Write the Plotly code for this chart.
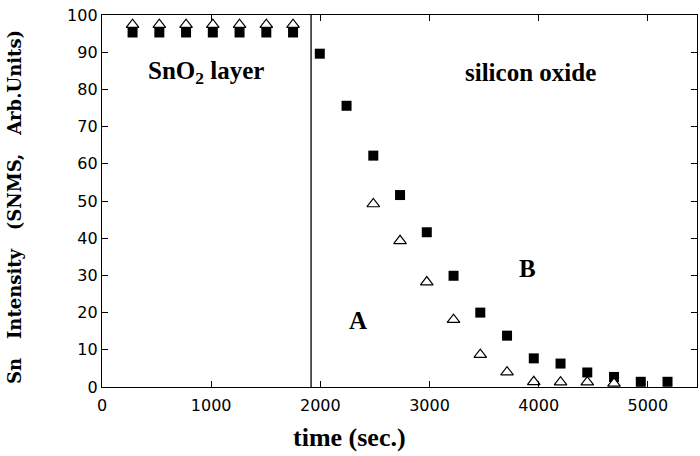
import plotly.graph_objects as go

time_s = [280, 525, 770, 1015, 1260, 1505, 1750, 1995, 2240, 2485, 2730, 2975,
          3220, 3465, 3710, 3955, 4200, 4445, 4690, 4935, 5180]
sample_B = [95.3, 95.3, 95.3, 95.3, 95.3, 95.3, 95.3, 89.6, 75.6, 62.2, 51.6, 41.6,
            29.9, 20.0, 13.8, 7.7, 6.3, 3.9, 2.7, 1.4, 1.4]
sample_A = [97.4, 97.4, 97.4, 97.4, 97.4, 97.4, 97.4, None, None, 49.2, 39.3, 28.2,
            18.1, 8.7, 4.0, 1.4, 1.3, 1.3, 1.0, None, None]
interface_time = 1915

serif = "Liberation Serif"
sans = "DejaVu Sans"

fig = go.Figure()
fig.add_trace(go.Scatter(x=time_s, y=sample_B, mode="markers",
                         marker=dict(symbol="square", size=10, color="black",
                                     line=dict(width=0)), showlegend=False))
fig.add_trace(go.Scatter(x=time_s, y=sample_A, mode="markers",
                         marker=dict(symbol="triangle-up", size=11, color="white",
                                     line=dict(width=1.2, color="black")),
                         showlegend=False))

fig.add_shape(type="line", x0=interface_time, x1=interface_time, y0=0, y1=100,
              xref="x", yref="y", line=dict(color="black", width=1.3))

ann = dict(showarrow=False, font=dict(family=serif, size=25, color="black"))
fig.add_annotation(x=950, y=84.5, text="<b>SnO<sub>2</sub> layer</b>", **ann)
fig.add_annotation(x=3925, y=84.5, text="<b>silicon oxide</b>", **ann)
fig.add_annotation(x=2345, y=17.8, text="<b>A</b>",
                   showarrow=False, font=dict(family=serif, size=25, color="black"))
fig.add_annotation(x=3900, y=31.8, text="<b>B</b>",
                   showarrow=False, font=dict(family=serif, size=25, color="black"))

nb = "\u00a0"
ytitle = f"<b>Sn{nb*3}Intensity{nb*3}(SNMS,{nb*3}Arb.Units)</b>"
fig.add_annotation(xref="paper", yref="paper", x=0, y=0.484, xshift=-87,
                   xanchor="center", yanchor="middle",
                   text=ytitle, textangle=-90, showarrow=False,
                   font=dict(family="DejaVu Serif", size=18, color="black"))
fig.add_annotation(xref="paper", yref="paper", x=0.4165, y=0, yshift=-50,
                   xanchor="center", yanchor="middle",
                   text="<b>time (sec.)</b>", showarrow=False,
                   font=dict(family=serif, size=26, color="black"))

fig.update_layout(
    width=700, height=456,
    margin=dict(l=102, r=3, t=15, b=69),
    paper_bgcolor="white", plot_bgcolor="white",
    font=dict(family=sans, size=16, color="black"),
    xaxis=dict(range=[0, 5450], tickvals=[0, 1000, 2000, 3000, 4000, 5000],
               ticks="inside", ticklen=6, tickwidth=1.2, tickcolor="black",
               showline=True, linecolor="black", linewidth=1.3, mirror="ticks",
               showgrid=False, zeroline=False, automargin=False,
               ticklabelstandoff=4,
               tickfont=dict(family=sans, size=16)),
    yaxis=dict(range=[0, 100], tickvals=list(range(0, 101, 10)),
               ticks="inside", ticklen=6, tickwidth=1.2, tickcolor="black",
               showline=True, linecolor="black", linewidth=1.3, mirror="ticks",
               showgrid=False, zeroline=False, automargin=False,
               tickfont=dict(family=sans, size=16)),
)

fig.write_html("out.html", config={"displayModeBar": False},
               post_script="document.body.style.margin='0';")
